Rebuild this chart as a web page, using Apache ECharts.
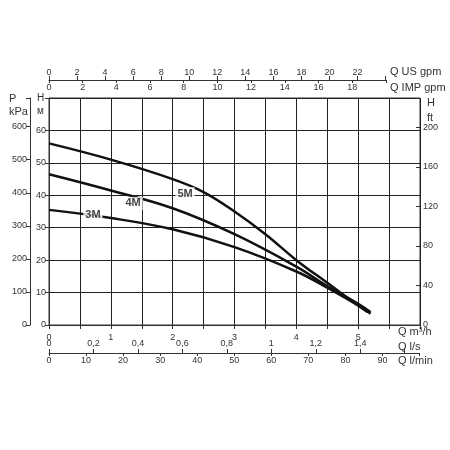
<!DOCTYPE html><html><head><meta charset="utf-8">
<script src="https://cdn.jsdelivr.net/npm/echarts@6/dist/echarts.min.js"></script>
<style>html,body{margin:0;background:#fff}#c{width:450px;height:450px}</style></head><body><div id="c"></div>
<script>
const q5M=[0,1,2,2.5,3,3.5,4,4.5,5,5.15];
const h5M=[56,51,45,41,35,28,20,13,6,4];
const q4M=[0,1,2,3,4,4.5,5,5.2];
const h4M=[46.5,41.5,36,28,18,12,6.5,4];
const q3M=[0,1,2,3,4,4.5,5,5.2];
const h3M=[35.5,33,29.5,24,16.5,11.5,6,3.5];
const curveLabels=[['3M',0.71,33.8],['4M',1.36,37.5],['5M',2.2,40.5]];
const F='Liberation Sans Narrow, Liberation Sans, sans-serif';
const PX=61.75, L=49;
const comma=v=>String(Math.round(v*100)/100).replace('.',',');
const hideMax=max=>(v=>Math.abs(v-max)<1e-6?'':comma(v));
function gridTop(w){return {left:L,width:w,top:80,height:10,show:false};}
function gridBot(w){return {left:L,width:w,top:343,height:10,show:false};}
const c=echarts.init(document.getElementById('c'));
const lab={fontFamily:F,fontSize:9,color:'#333'};
const line={lineStyle:{color:'#333',width:1}};
c.setOption({
 animation:false,
 grid:[{left:L,right:30,top:98,bottom:125,show:true,borderColor:'#333',borderWidth:1},
       gridTop(24/4.4029*PX),gridTop(20/3.6662*PX),gridBot(1.6*3.6*PX),gridBot(100/16.667*PX)],
 xAxis:[
  {gridIndex:0,type:'value',min:0,max:6,interval:0.5,axisLine:line,axisTick:{show:true,length:4,...line},
   axisLabel:{...lab,formatter:v=>Number.isInteger(v)&&v<6?String(v):''},splitLine:{show:true,lineStyle:{color:'#222',width:1}}},
  {gridIndex:1,type:'value',position:'top',min:0,max:24,interval:2,axisLine:{show:true,onZero:false,...line},axisTick:{show:true,length:4,...line},
   axisLabel:{...lab,margin:3,formatter:hideMax(24)},splitLine:{show:false}},
  {gridIndex:2,type:'value',position:'top',min:0,max:20,interval:2,axisLine:{show:false,onZero:false},axisTick:{show:true,inside:true,length:3,...line},
   axisLabel:{...lab,inside:true,margin:3,formatter:hideMax(20)},splitLine:{show:false}},
  {gridIndex:3,type:'value',position:'bottom',min:0,max:1.6,interval:0.2,axisLine:{show:false,onZero:false},axisTick:{show:true,inside:true,length:4,...line},
   axisLabel:{...lab,inside:true,margin:5,formatter:hideMax(1.6)},splitLine:{show:false}},
  {gridIndex:4,type:'value',position:'bottom',min:0,max:100,interval:10,axisLine:{show:true,onZero:false,...line},axisTick:{show:true,length:3,...line},
   axisLabel:{...lab,margin:3,formatter:hideMax(100)},splitLine:{show:false}}
 ],
 yAxis:[
  {gridIndex:0,type:'value',min:0,max:70,interval:10,axisLine:{show:true,...line},axisTick:{show:true,length:4,...line},
   axisLabel:{...lab,margin:3,formatter:hideMax(70)},splitLine:{show:true,lineStyle:{color:'#222',width:1}}},
  {gridIndex:0,type:'value',position:'left',offset:19,min:0,max:70*9.81,interval:100,axisLine:{show:true,...line},axisTick:{show:true,length:4,...line},
   axisLabel:{...lab,margin:3,formatter:v=>v<=600?String(v):''},splitLine:{show:false}},
  {gridIndex:0,type:'value',position:'right',min:0,max:70*3.2808,interval:40,axisLine:{show:false},axisTick:{show:true,inside:true,length:4,...line},
   axisLabel:{...lab,margin:3,formatter:v=>v<=200?String(v):''},splitLine:{show:false}},
  {gridIndex:1,show:false,min:0,max:1},{gridIndex:2,show:false,min:0,max:1},{gridIndex:3,show:false,min:0,max:1},{gridIndex:4,show:false,min:0,max:1}
 ],
 series:[
  ...[[q5M,h5M],[q4M,h4M],[q3M,h3M]].map(([q,h])=>({type:'line',smooth:0.4,symbol:'none',data:q.map((x,i)=>[x,h[i]]),lineStyle:{color:'#111',width:2.5}})),
  {type:'scatter',symbolSize:1,itemStyle:{color:'transparent'},data:curveLabels.map(d=>({value:[d[1],d[2]],name:d[0]})),
   label:{show:true,position:'inside',formatter:p=>p.name,fontFamily:F,fontWeight:'bold',fontSize:11,color:'#111',backgroundColor:'#fff',padding:[1,2]},z:5},
  {type:'line',xAxisIndex:1,yAxisIndex:3,data:[]},{type:'line',xAxisIndex:2,yAxisIndex:4,data:[]},
  {type:'line',xAxisIndex:3,yAxisIndex:5,data:[]},{type:'line',xAxisIndex:4,yAxisIndex:6,data:[]}
 ],
 graphic:[
  {type:'text',left:390,top:66,style:{text:'Q US gpm',font:'11px '+F,fill:'#333'}},
  {type:'text',left:390,top:82,style:{text:'Q IMP gpm',font:'11px '+F,fill:'#333'}},
  {type:'text',left:9,top:92,style:{text:'P\nkPa',font:'11px '+F,fill:'#333',align:'center',lineHeight:13,x:9}},
  {type:'text',left:37,top:92,style:{text:'H\nм',font:'10px '+F,fill:'#333',lineHeight:13}},
  {type:'text',left:427,top:95,style:{text:'H\nft',font:'11px '+F,fill:'#333',lineHeight:15}},
  {type:'text',left:398,top:326,style:{text:'Q m³/h',font:'11px '+F,fill:'#333'}},
  {type:'text',left:398,top:341,style:{text:'Q l/s',font:'11px '+F,fill:'#333'}},
  {type:'text',left:398,top:355,style:{text:'Q l/min',font:'11px '+F,fill:'#333'}}
 ]
});
</script></body></html>
